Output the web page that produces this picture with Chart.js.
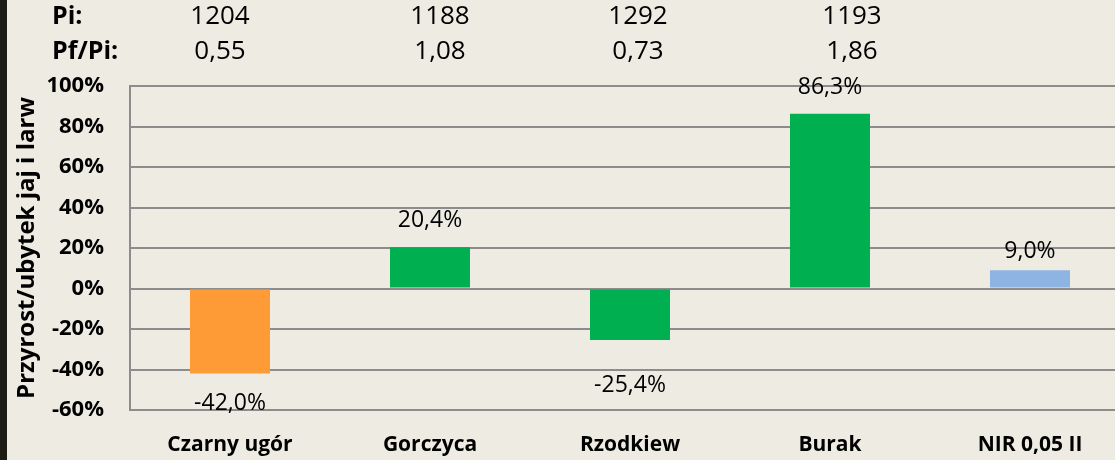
<!DOCTYPE html>
<html>
<head>
<meta charset="utf-8">
<script src="https://cdn.jsdelivr.net/npm/chart.js@4/dist/chart.umd.min.js"></script>
<style>
  html, body { margin: 0; padding: 0; background: #EEEBE3; overflow: hidden; }
  #wrap { position: relative; width: 1130px; height: 460px; }
</style>
</head>
<body>
<div id="wrap"><canvas id="chart" width="1130" height="460"></canvas></div>
<script>
  // Data
  const categories = ['Czarny ugór', 'Gorczyca', 'Rzodkiew', 'Burak', 'NIR 0,05 II'];
  const changes = [-42.0, 20.4, -25.4, 86.3, 9.0];        // przyrost/ubytek, %
  const piValues = ['1204', '1188', '1292', '1193'];      // Pi row
  const pfPiValues = ['0,55', '1,08', '0,73', '1,86'];    // Pf/Pi row
  const yTicks = [-60, -40, -20, 0, 20, 40, 60, 80, 100];

  const barColors = ['#FF9B37', '#00B050', '#00B050', '#00B050', '#8EB4E3'];
  const gridColor = '#8C8C8C';
  const fontFamily = "'Open Sans', 'Noto Sans', sans-serif";

  // small nudges so the header numbers sit like in the slide
  const headerShift = [-10, 10, 8, 22];
  // label gap from bar end (positive: above, negative: below)
  const labelGap = [30, 27, 46, 26, 19];

  function fmt(v) {
    return v.toFixed(1).replace('.', ',') + '%';
  }

  // background + dark strip on the left edge
  const backdrop = {
    id: 'backdrop',
    beforeDraw(chart) {
      const ctx = chart.ctx;
      ctx.save();
      ctx.fillStyle = '#EEEBE3';
      ctx.fillRect(0, 0, chart.width, chart.height);
      ctx.fillStyle = '#1E1D15';
      ctx.fillRect(0, 0, 7, chart.height);
      ctx.restore();
    }
  };

  // Pi / Pf/Pi rows above the plot
  const headerRows = {
    id: 'headerRows',
    afterDraw(chart) {
      const ctx = chart.ctx;
      const x = chart.scales.x;
      ctx.save();
      ctx.fillStyle = '#000';
      ctx.textBaseline = 'middle';
      ctx.textAlign = 'left';
      ctx.font = 'bold 25px ' + fontFamily;
      ctx.fillText('Pi:', 52, 17);
      ctx.fillText('Pf/Pi:', 52, 52);
      ctx.textAlign = 'center';
      ctx.font = '26px ' + fontFamily;
      piValues.forEach((v, i) => {
        ctx.fillText(v, x.getPixelForValue(i) + headerShift[i], 17);
      });
      pfPiValues.forEach((v, i) => {
        ctx.fillText(v, x.getPixelForValue(i) + headerShift[i], 52);
      });
      ctx.restore();
    }
  };

  // value labels next to each bar
  const valueLabels = {
    id: 'valueLabels',
    afterDatasetsDraw(chart) {
      const ctx = chart.ctx;
      const meta = chart.getDatasetMeta(0);
      ctx.save();
      ctx.fillStyle = '#000';
      ctx.font = '23px ' + fontFamily;
      ctx.textAlign = 'center';
      ctx.textBaseline = 'middle';
      meta.data.forEach((bar, i) => {
        const v = changes[i];
        const y = v >= 0 ? bar.y - labelGap[i] : bar.y + labelGap[i];
        ctx.fillText(fmt(v), bar.x, y);
      });
      ctx.restore();
    }
  };

  const ctx = document.getElementById('chart').getContext('2d');
  new Chart(ctx, {
    type: 'bar',
    data: {
      labels: categories,
      datasets: [{
        data: changes,
        backgroundColor: barColors,
        borderWidth: 0,
        barPercentage: 0.4,
        categoryPercentage: 1.0
      }]
    },
    options: {
      responsive: false,
      animation: false,
      events: [],
      layout: { padding: { top: 86, right: 0, bottom: 0, left: 0 } },
      plugins: {
        legend: { display: false },
        tooltip: { enabled: false }
      },
      scales: {
        x: {
          grid: { display: false, drawTicks: false },
          border: { display: false },
          ticks: {
            color: '#000',
            padding: 22,
            font: { family: fontFamily, size: 21, weight: 'bold' }
          },
          afterFit(scale) { scale.height = 50; }
        },
        y: {
          min: -60,
          max: 100,
          afterBuildTicks(scale) {
            scale.ticks = yTicks.map(v => ({ value: v }));
          },
          grid: { color: gridColor, lineWidth: 2, drawTicks: false },
          border: { display: true, color: gridColor, width: 2 },
          ticks: {
            color: '#000',
            padding: 26,
            font: { family: fontFamily, size: 22, weight: 'bold' },
            callback: v => v + '%'
          },
          title: {
            display: true,
            text: 'Przyrost/ubytek jaj i larw',
            color: '#000',
            padding: { top: 13, bottom: 0 },
            font: { family: fontFamily, size: 24, weight: 'bold' }
          },
          afterFit(scale) { scale.width = 130; }
        }
      }
    },
    plugins: [backdrop, headerRows, valueLabels]
  });
</script>
</body>
</html>
